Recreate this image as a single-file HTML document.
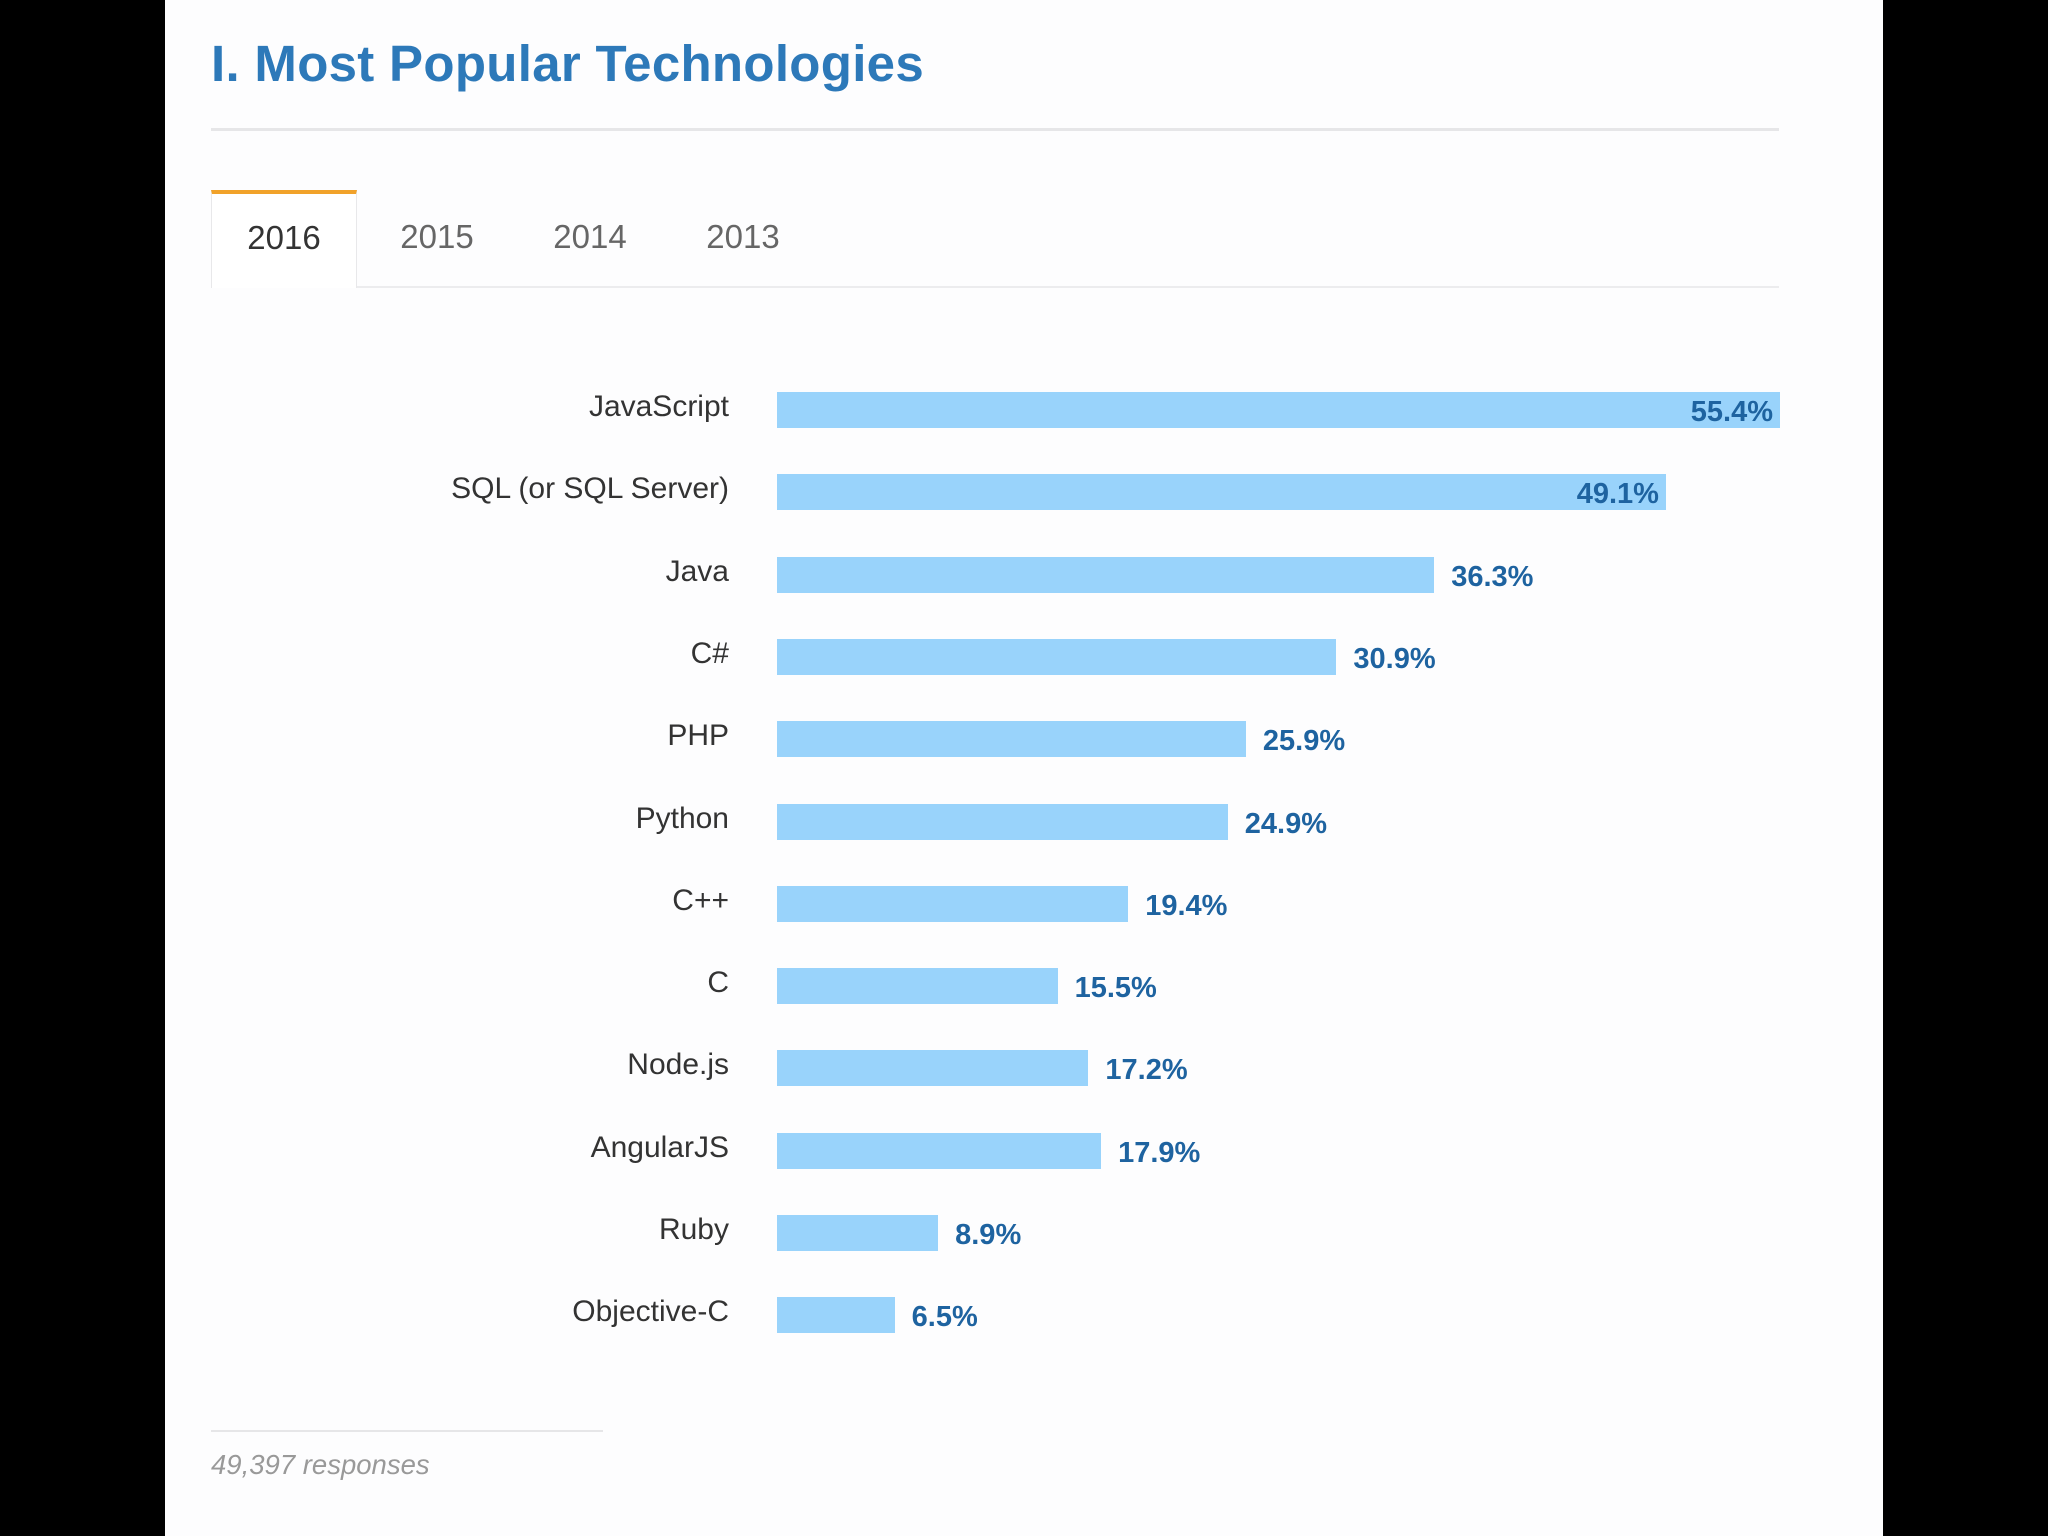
<!DOCTYPE html>
<html><head><meta charset="utf-8">
<style>
body{margin:0;width:2048px;height:1536px;background:#000;position:relative;overflow:hidden;font-family:"Liberation Sans",Arial,sans-serif;}
#page{position:absolute;left:165px;top:0;width:1718px;height:1536px;background:#fdfdfe;}
.abs{position:absolute;}
</style></head>
<body>
<div id="page"></div>
<div class="abs" style="left:211px;top:33px;font-size:51px;font-weight:bold;color:#2d79b9;line-height:62px;white-space:nowrap;letter-spacing:0.3px;">I. Most Popular Technologies</div>
<div class="abs" style="left:211px;top:128px;width:1568px;height:3px;background:#e6e6e8;"></div>
<div class="abs" style="left:211px;top:286px;width:1568px;height:2px;background:#ececee;"></div>
<div class="abs" style="left:211px;top:190px;width:146px;height:98px;border-top:4px solid #f1a22a;border-left:1px solid #e8e8ea;border-right:1px solid #e8e8ea;background:#fff;box-sizing:border-box;font-size:33px;color:#333;text-align:center;line-height:88px;">2016</div>
<div class="abs" style="left:387px;top:192px;width:100px;font-size:33px;color:#666;text-align:center;line-height:90px;">2015</div>
<div class="abs" style="left:540px;top:192px;width:100px;font-size:33px;color:#666;text-align:center;line-height:90px;">2014</div>
<div class="abs" style="left:693px;top:192px;width:100px;font-size:33px;color:#666;text-align:center;line-height:90px;">2013</div>
<div id="chart"></div>
<div class="abs" style="left:211px;top:1430px;width:392px;height:2px;background:#e6e6e8;"></div>
<div class="abs" style="left:211px;top:1449px;font-size:27.5px;font-style:italic;color:#999;">49,397 responses</div>
<script>
const categories=["JavaScript","SQL (or SQL Server)","Java","C#","PHP","Python","C++","C","Node.js","AngularJS","Ruby","Objective-C"];
const values=[55.4,49.1,36.3,30.9,25.9,24.9,19.4,15.5,17.2,17.9,8.9,6.5];
const valueLabels=["55.4%","49.1%","36.3%","30.9%","25.9%","24.9%","19.4%","15.5%","17.2%","17.9%","8.9%","6.5%"];
const x0=777,pxPer=(1780-777)/55.4,y0=410,step=82.3,bh=36;
const xs=v=>x0+v*pxPer, ys=i=>y0+i*step;
const c=document.getElementById('chart');
categories.forEach((cat,i)=>{
  const cy=ys(i);
  const lab=document.createElement('div');
  
  
  lab.style.cssText=`position:absolute;right:${2048-729}px;top:${cy-21}px;font-size:30px;color:#333;white-space:nowrap;line-height:36px;`;
  lab.textContent=cat;c.appendChild(lab);
  const w=xs(values[i])-x0;
  const bar=document.createElement('div');
  
  
  bar.style.cssText=`position:absolute;left:${x0}px;top:${cy-bh/2}px;width:${w}px;height:${bh}px;background:#99d3fb;`;
  c.appendChild(bar);
  const v=document.createElement('div');
  
  
  const inside=values[i]>45;
  v.style.cssText=`position:absolute;top:${cy-16}px;font-size:29px;font-weight:bold;color:#1e63a0;white-space:nowrap;line-height:36px;`+(inside?`right:${2048-xs(values[i])+7}px;`:`left:${xs(values[i])+17}px;`);
  v.textContent=valueLabels[i];c.appendChild(v);
});
</script>
</body></html>
